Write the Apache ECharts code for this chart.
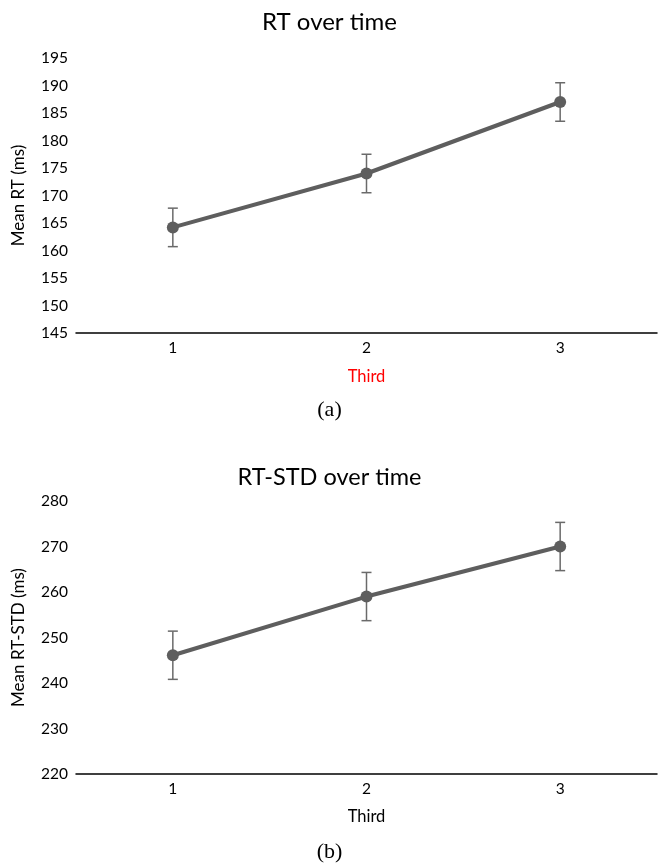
<!DOCTYPE html>
<html>
<head>
<meta charset="utf-8">
<script src="https://cdn.jsdelivr.net/npm/echarts@6/dist/echarts.min.js"></script>
<style>
html,body{margin:0;padding:0;background:#fff;}
#main{width:659px;height:865px;}
</style>
</head>
<body>
<div id="main"></div>
<script>
// ---- data ----
const categories = ['1', '2', '3'];
const rtMean = [164.2, 174.0, 187.0];
const rtErr = [3.5, 3.5, 3.5];
const stdMean = [246.1, 259.0, 270.0];
const stdErr = [5.3, 5.3, 5.3];

const FONT = 'Lato, "Open Sans", sans-serif';
const LINE = '#5e5e5e';

function errData(mean, err) {
  return mean.map((m, i) => [i, m - err[i], m + err[i]]);
}
function errRender(params, api) {
  const x = api.value(0);
  const lo = api.coord([x, api.value(1)]);
  const hi = api.coord([x, api.value(2)]);
  const cap = 5;
  const st = { stroke: '#6a6a6a', lineWidth: 1.5 };
  return {
    type: 'group',
    children: [
      { type: 'line', shape: { x1: lo[0], y1: lo[1], x2: hi[0], y2: hi[1] }, style: st },
      { type: 'line', shape: { x1: lo[0] - cap, y1: lo[1], x2: lo[0] + cap, y2: lo[1] }, style: st },
      { type: 'line', shape: { x1: hi[0] - cap, y1: hi[1], x2: hi[0] + cap, y2: hi[1] }, style: st }
    ]
  };
}

function xAxisCfg(gridIndex, nameColor, labelMargin, nameGap) {
  return {
    type: 'category', gridIndex: gridIndex, data: categories, boundaryGap: true,
    axisLine: { lineStyle: { color: '#000', width: 1.5 } },
    axisTick: { show: false },
    axisLabel: { color: '#000', fontSize: 15.5, fontFamily: FONT, margin: labelMargin },
    name: 'Third', nameLocation: 'middle', nameGap: nameGap,
    nameTextStyle: { color: nameColor, fontSize: 16.5, fontFamily: FONT }
  };
}
function yAxisCfg(gridIndex, min, max, interval, name) {
  return {
    type: 'value', gridIndex: gridIndex, min: min, max: max, interval: interval,
    axisLine: { show: false }, axisTick: { show: false }, splitLine: { show: false },
    axisLabel: { color: '#000', fontSize: 15.5, fontFamily: FONT, margin: 8 },
    name: name, nameLocation: 'middle', nameGap: 49, nameRotate: 90,
    nameTextStyle: { color: '#000', fontSize: 17, fontFamily: FONT }
  };
}

const chart = echarts.init(document.getElementById('main'));
chart.setOption({
  animation: false,
  backgroundColor: '#fff',
  title: [
    { text: 'RT over time', left: 'center', top: 5, textStyle: { fontSize: 24, fontWeight: 'normal', color: '#000', fontFamily: FONT } },
    { text: 'RT-STD over time', left: 'center', top: 460, textStyle: { fontSize: 23.5, fontWeight: 'normal', color: '#000', fontFamily: FONT } },
    { text: '(a)', left: 'center', top: 394, textStyle: { fontSize: 22, fontWeight: 'normal', color: '#000', fontFamily: '"Liberation Serif", serif' } },
    { text: '(b)', left: 'center', top: 836, textStyle: { fontSize: 22, fontWeight: 'normal', color: '#000', fontFamily: '"Liberation Serif", serif' } }
  ],
  grid: [
    { left: 76, right: 2, top: 58, height: 275 },
    { left: 76, right: 2, top: 501, height: 273 }
  ],
  xAxis: [xAxisCfg(0, '#ff0000', 7, 35), xAxisCfg(1, '#000', 7, 34)],
  yAxis: [yAxisCfg(0, 145, 195, 5, 'Mean RT (ms)'), yAxisCfg(1, 220, 280, 10, 'Mean RT-STD (ms)')],
  series: [
    { type: 'custom', xAxisIndex: 0, yAxisIndex: 0, data: errData(rtMean, rtErr), renderItem: errRender, z: 1 },
    { type: 'line', xAxisIndex: 0, yAxisIndex: 0, data: rtMean, symbol: 'circle', symbolSize: 12,
      lineStyle: { color: LINE, width: 4 }, itemStyle: { color: LINE }, z: 2 },
    { type: 'custom', xAxisIndex: 1, yAxisIndex: 1, data: errData(stdMean, stdErr), renderItem: errRender, z: 1 },
    { type: 'line', xAxisIndex: 1, yAxisIndex: 1, data: stdMean, symbol: 'circle', symbolSize: 12,
      lineStyle: { color: LINE, width: 4 }, itemStyle: { color: LINE }, z: 2 }
  ]
});
</script>
</body>
</html>
